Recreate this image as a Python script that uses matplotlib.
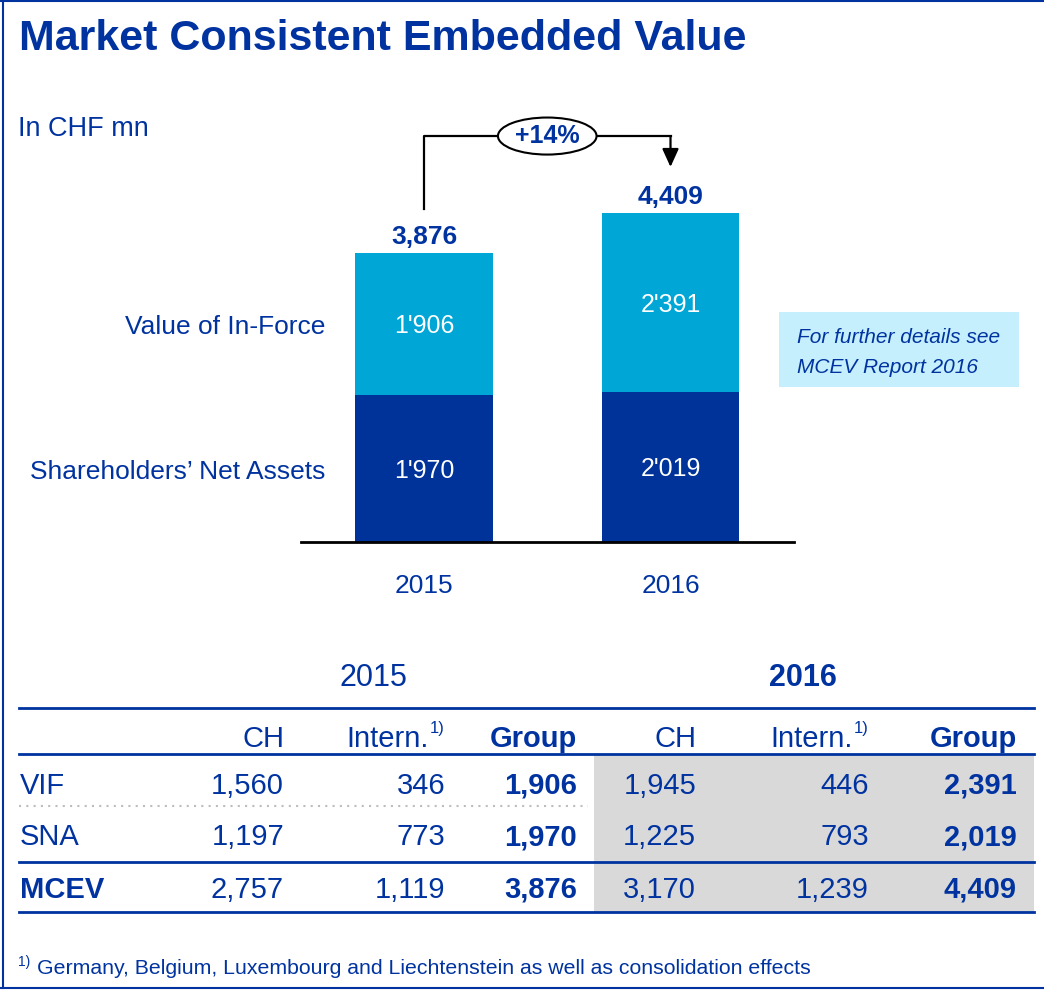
import numpy as np
import matplotlib
matplotlib.use('Agg')
import matplotlib.pyplot as plt
from matplotlib.patches import Ellipse, Rectangle
from matplotlib.lines import Line2D

plt.rcParams['font.family'] = ['Liberation Sans', 'DejaVu Sans']

# data
years = ['2015', '2016']
sna = [1970, 2019]
vif = [1906, 2391]
segment_names = ['Shareholders\u2019 Net Assets', 'Value of In-Force']

row_names = ['VIF', 'SNA', 'MCEV']
ch_2015 = [1560, 1197, 2757]
intern_2015 = [346, 773, 1119]
group_2015 = [1906, 1970, 3876]
ch_2016 = [1945, 1225, 3170]
intern_2016 = [446, 793, 1239]
group_2016 = [2391, 2019, 4409]

footnote = 'Germany, Belgium, Luxembourg and Liechtenstein as well as consolidation effects'

# style
W, H = 1044, 990
BLUE = '#0033a0'
DARK = '#003399'
LIGHT = '#00a6d6'
GRAY = '#d9d9d9'
BOX = '#c5effc'

fig = plt.figure(figsize=(W / 100, H / 100), dpi=100)


def fx(x):
    return x / W


def fy(y):
    return 1 - y / H


def ftext(x, y, s, **kw):
    kw.setdefault('color', BLUE)
    kw.setdefault('va', 'baseline')
    fig.text(fx(x), fy(y), s, **kw)


def fline(x0, x1, y0, y1, **kw):
    fig.add_artist(Line2D([fx(x0), fx(x1)], [fy(y0), fy(y1)], transform=fig.transFigure, **kw))


def fmt_bar(v):
    return f'{v:,}'.replace(',', "'")


# frame
fline(3, 3, 0, 988, color=BLUE, lw=1.5)
fline(0, W, 1, 1, color=BLUE, lw=1.5)
fline(0, W, 988, 988, color=BLUE, lw=1.5)

# title
ftext(19, 50, 'Market Consistent Embedded Value', fontsize=31, fontweight='bold')
ftext(18, 136, 'In CHF mn', fontsize=19.5)

# bar chart
ax = fig.add_axes([fx(300.75), fy(542), 493 / W, 372.5 / H])
x = np.arange(len(years))
width = 0.556
# reported MCEV totals (rounded components do not add up exactly)
totals = np.array([group_2015[2], group_2016[2]])
ax.bar(x, sna, width=width, color=DARK, zorder=2)
ax.bar(x, vif, bottom=sna, width=width, color=LIGHT, zorder=2)
ax.set_xlim(-0.5, 1.5)
ax.set_ylim(0, 5000)
for s in ['left', 'right', 'top']:
    ax.spines[s].set_visible(False)
ax.spines['bottom'].set_color('black')
ax.spines['bottom'].set_linewidth(2)
ax.set_yticks([])
ax.set_xticks(x, years)
ax.tick_params(axis='x', length=0, pad=23, labelsize=19, labelcolor=BLUE)

for i in x:
    ax.annotate(fmt_bar(sna[i]), (i, sna[i] / 2), xytext=(0, -6.5), textcoords='offset points',
                ha='center', va='baseline', color='white', fontsize=18)
    ax.annotate(fmt_bar(vif[i]), (i, sna[i] + vif[i] / 2), xytext=(0, -6.5), textcoords='offset points',
                ha='center', va='baseline', color='white', fontsize=18)
    ax.annotate(f'{totals[i]:,}', (i, sna[i] + vif[i]), xytext=(0, 7), textcoords='offset points',
                ha='center', va='baseline', color=BLUE, fontsize=19, fontweight='bold')

# segment names left of first bar
centers = [sna[0] / 2, sna[0] + vif[0] / 2]
for name, c in zip(segment_names, centers):
    ax.annotate(name, (-width / 2, c), xytext=(-21.5, -7.2), textcoords='offset points',
                ha='right', va='baseline', color=BLUE, fontsize=19)

# growth connector
growth = (totals[1] / totals[0] - 1) * 100
top = totals.max() + 1040
ax.plot([0, 0, 1], [totals[0] + 600, top, top], color='black', lw=1.6, clip_on=False, zorder=3)
ax.annotate('', xy=(1, totals[1] + 625), xytext=(1, top),
            arrowprops=dict(arrowstyle='-|>,head_length=0.55,head_width=0.25', mutation_scale=20,
                            color='black', lw=1.6, shrinkA=0, shrinkB=0), annotation_clip=False)
ax.add_patch(Ellipse((0.5, top), 0.4, 497, facecolor='white', edgecolor='black', lw=1.5,
                     clip_on=False, zorder=4))
ax.text(0.5, top, f'+{growth:.0f}%', ha='center', va='center', color=BLUE, fontsize=18,
        fontweight='bold', zorder=5, clip_on=False)

# note box
fig.add_artist(Rectangle((fx(779), fy(387)), (1019 - 779) / W, (387 - 312) / H,
                         transform=fig.transFigure, facecolor=BOX, edgecolor='none'))
ftext(797, 343, 'For further details see', fontsize=15, style='italic')
ftext(797, 373, 'MCEV Report 2016', fontsize=15, style='italic')

# table
fig.add_artist(Rectangle((fx(594), fy(912)), (1034 - 594) / W, (912 - 755) / H,
                         transform=fig.transFigure, facecolor=GRAY, edgecolor='none', zorder=0))
for yy in [708, 754, 862, 912]:
    fline(19, 1034, yy, yy, color=BLUE, lw=2)
fline(19, 588, 806, 806, color='#bdbdbd', lw=1.5, linestyle=(0, (1, 2.5)))

ftext(373, 686, '2015', fontsize=22, ha='center')
ftext(803, 686, '2016', fontsize=22, ha='center', fontweight='bold')

cols_x = [284, 445, 577, 696, 869, 1017]
headers = ['CH', 'Intern.', 'Group', 'CH', 'Intern.', 'Group']
for cx, hd in zip(cols_x, headers):
    if hd == 'Intern.':
        ftext(cx, 733, '1)', fontsize=12, ha='right')
        ftext(cx - 16, 747, hd, fontsize=21, ha='right')
    else:
        ftext(cx, 747, hd, fontsize=21, ha='right',
              fontweight='bold' if hd == 'Group' else 'normal')

row_y = [794, 845, 898]
columns = [ch_2015, intern_2015, group_2015, ch_2016, intern_2016, group_2016]
for r, (name, ry) in enumerate(zip(row_names, row_y)):
    ftext(20, ry, name, fontsize=21, fontweight='bold' if name == 'MCEV' else 'normal')
    for c, (cx, col) in enumerate(zip(cols_x, columns)):
        bold = headers[c] == 'Group'
        ftext(cx, ry, f'{col[r]:,}', fontsize=21, ha='right',
              fontweight='bold' if bold else 'normal')

# footnote
ftext(18, 966, '1)', fontsize=10)
ftext(37, 974, footnote, fontsize=15.3)

fig.savefig('out.png', dpi=100)
